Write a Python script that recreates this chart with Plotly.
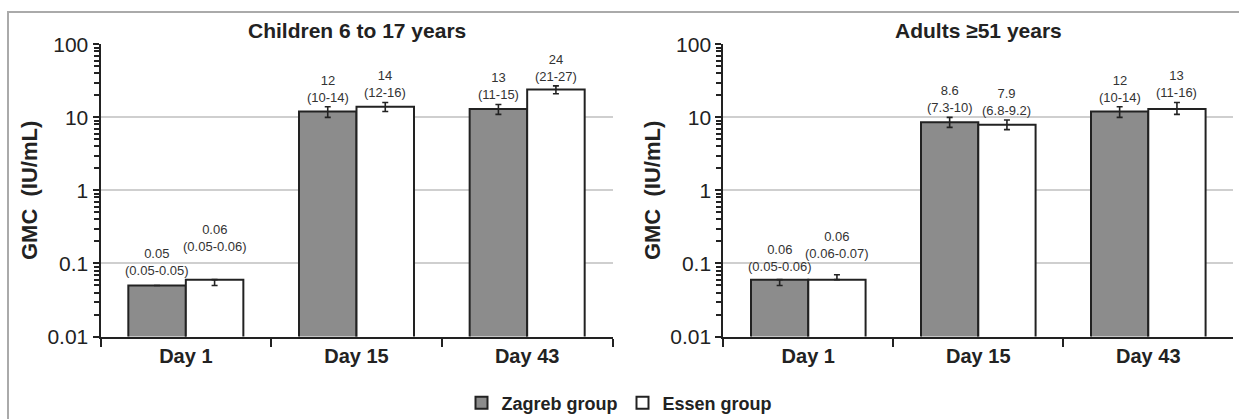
import math
import plotly.graph_objects as go
from plotly.subplots import make_subplots

# ---- data ----
days = ["Day 1", "Day 15", "Day 43"]
groups = ["Zagreb group", "Essen group"]
panel_titles = ["Children 6 to 17 years", "Adults \u226551 years"]

children_zagreb = [0.05, 12, 13]
children_zagreb_lo = [0.05, 10, 11]
children_zagreb_hi = [0.05, 14, 15]
children_essen = [0.06, 14, 24]
children_essen_lo = [0.05, 12, 21]
children_essen_hi = [0.06, 16, 27]

adults_zagreb = [0.06, 8.6, 12]
adults_zagreb_lo = [0.05, 7.3, 10]
adults_zagreb_hi = [0.06, 10, 14]
adults_essen = [0.06, 7.9, 13]
adults_essen_lo = [0.06, 6.8, 11]
adults_essen_hi = [0.07, 9.2, 16]

y_ticks = [0.01, 0.1, 1, 10, 100]
y_tick_labels = ["0.01", "0.1", "1", "10", "100"]

# ---- styling ----
W, H = 1239, 419
FONT = "Liberation Sans, Arial, Helvetica, sans-serif"
FILL = {"Zagreb group": "#8c8c8c", "Essen group": "#ffffff"}
EDGE = "#222222"
TXT = "#222222"
BARGAP = 0.326
# extra vertical shifts (px) of labels above day-1 bars (to avoid overlap)
label_extra = [
    {"Zagreb group": [5, 0, 0], "Essen group": [24, 0, 0]},
    {"Zagreb group": [4, 0, 0], "Essen group": [12, 0, 0]},
]

panels = [
    {"Zagreb group": (children_zagreb, children_zagreb_lo, children_zagreb_hi),
     "Essen group": (children_essen, children_essen_lo, children_essen_hi)},
    {"Zagreb group": (adults_zagreb, adults_zagreb_lo, adults_zagreb_hi),
     "Essen group": (adults_essen, adults_essen_lo, adults_essen_hi)},
]

fig = make_subplots(rows=1, cols=2)

def fmt(v):
    return f"{v:g}"

annotations = []
bar_w = (1 - BARGAP) / 2
for p, panel in enumerate(panels):
    col = p + 1
    xref = "x" if p == 0 else "x2"
    yref = "y" if p == 0 else "y2"
    for g_i, g in enumerate(groups):
        vals, lo, hi = panel[g]
        fig.add_trace(
            go.Bar(
                x=days, y=vals, name=f"<b>{g}</b>", showlegend=(p == 0),
                legendgroup=g,
                marker=dict(color=FILL[g], line=dict(color=EDGE, width=2)),
                error_y=dict(
                    type="data", symmetric=False,
                    array=[h - v for h, v in zip(hi, vals)],
                    arrayminus=[v - l for v, l in zip(vals, lo)],
                    color=EDGE, thickness=1.6, width=3,
                ),
            ),
            row=1, col=col,
        )
        offset = (-0.5 + g_i) * bar_w
        for d_i in range(len(days)):
            annotations.append(dict(
                x=d_i + offset, y=math.log10(hi[d_i]), xref=xref, yref=yref,
                text=f"{fmt(vals[d_i])}<br>({fmt(lo[d_i])}-{fmt(hi[d_i])})",
                showarrow=False, yanchor="bottom", xanchor="center",
                yshift=label_extra[p][g][d_i],
                font=dict(family=FONT, size=13, color="#333333"),
            ))

# panel titles
x_domains = [[100.5 / W, 612.5 / W], [723.3 / W, 1233.3 / W]]
for p, t in enumerate(panel_titles):
    annotations.append(dict(
        x=sum(x_domains[p]) / 2, y=1 - 30 / H, xref="paper", yref="paper",
        text=f"<b>{t}</b>", showarrow=False, xanchor="center", yanchor="middle",
        font=dict(family=FONT, size=21, color=TXT),
    ))

y_domain = [1 - 336.5 / H, 1 - 44.3 / H]
axis_common_y = dict(
    type="log", range=[-2, 2], domain=y_domain, automargin=False,
    tickvals=y_ticks, ticktext=y_tick_labels,
    showgrid=True, gridcolor="#cfcfcf", gridwidth=1.5,
    showline=True, linecolor=EDGE, linewidth=2,
    ticks="outside", ticklen=6, tickwidth=2, tickcolor=EDGE,
    minor=dict(ticks="outside", ticklen=5, tickwidth=1.5, tickcolor=EDGE,
               dtick="D1", showgrid=False),
    tickfont=dict(family=FONT, size=21, color=TXT),
    title=dict(text="<b>GMC\u00a0\u00a0(IU/mL)</b>", standoff=4,
               font=dict(family=FONT, size=22, color=TXT)),
    zeroline=False,
)
axis_common_x = dict(
    type="category", automargin=False,
    showline=True, linecolor=EDGE, linewidth=2,
    ticks="outside", tickson="boundaries", ticklen=8, tickwidth=2,
    tickcolor=EDGE, showgrid=False,
    tickfont=dict(family=FONT, size=20, color=TXT),
)

fig.update_layout(
    width=W, height=H,
    margin=dict(l=0, r=0, t=0, b=0, autoexpand=False),
    paper_bgcolor="white", plot_bgcolor="white",
    barmode="group", bargap=BARGAP, bargroupgap=0,
    font=dict(family=FONT),
    xaxis=dict(domain=x_domains[0], anchor="y", **axis_common_x),
    xaxis2=dict(domain=x_domains[1], anchor="y2", **axis_common_x),
    yaxis=dict(anchor="x", **axis_common_y),
    yaxis2=dict(anchor="x2", **axis_common_y),
    annotations=annotations,
    legend=dict(
        orientation="h", x=0.5, xanchor="center", y=1 - 403 / H, yanchor="middle",
        font=dict(family=FONT, size=18, color=TXT), itemwidth=30,
        traceorder="normal", itemclick=False, bgcolor="rgba(0,0,0,0)",
    ),
    shapes=[dict(
        type="rect", xref="paper", yref="paper",
        x0=8 / W, x1=1.02, y0=-0.05, y1=1 - 12 / H,
        line=dict(color="#aaaaaa", width=2), fillcolor="rgba(0,0,0,0)",
        layer="below",
    )],
)
# bold x tick labels
fig.update_xaxes(ticktext=[f"<b>{d}</b>" for d in days], tickvals=days)

fig.write_html(
    "out.html",
    config={"displayModeBar": False},
    post_script="document.body.style.margin='0';document.body.style.overflow='hidden';",
)
